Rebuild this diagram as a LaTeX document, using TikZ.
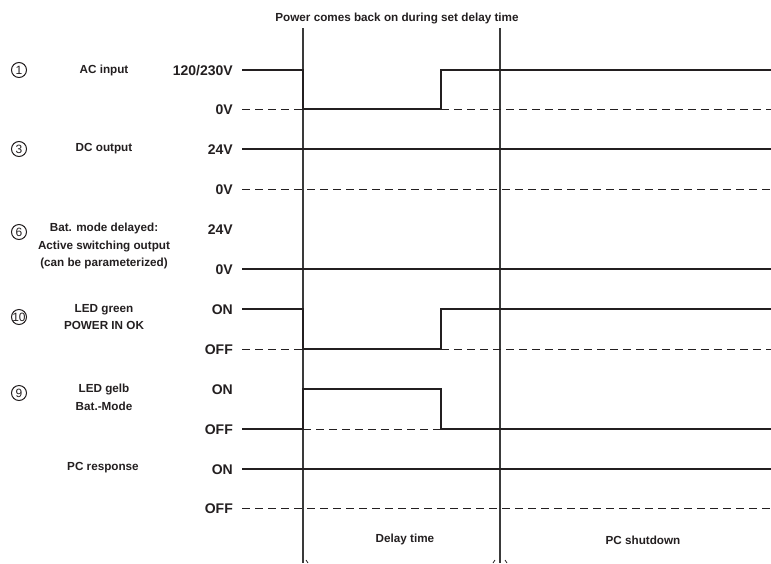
\documentclass[tikz,border=0pt]{standalone}
\usepackage{fontspec}
\setmainfont{Liberation Sans}
\definecolor{sigc}{HTML}{231F20}
\definecolor{gridc}{HTML}{3A3A3A}
\begin{document}
\begin{tikzpicture}[x=1pt,y=-1pt,
  sig/.style={line width=2.6pt, color=sigc, line join=miter},
  refline/.style={line width=0.9pt, color=sigc, dash pattern=on 8pt off 5pt},
  gridline/.style={line width=1.1pt, color=gridc},
  lvl/.style={anchor=base east, font=\fontsize{14}{16}\selectfont\bfseries, inner sep=0pt, text=sigc},
  sname/.style={align=center, font=\fontsize{11.7}{17.5}\selectfont\bfseries, inner sep=0pt, text=sigc},
  cnum/.style={circle, draw=sigc, line width=1pt, minimum size=15pt, inner sep=0pt, font=\fontsize{12}{12}\selectfont, text=sigc}]
\useasboundingbox (0,0) rectangle (771,563);

% time markers
\coordinate (vA0) at (303,28);
\coordinate (vA1) at (303,563);
\coordinate (vB0) at (500,28);
\coordinate (vB1) at (500,563);
\draw[gridline] (vA0) -- (vA1);
\draw[gridline] (vB0) -- (vB1);

% title and bottom labels
\node[sname] (title) at (397,18) {Power comes back on during set delay time};
\node[sname] (delay) at (405,539) {Delay time};
\node[sname] (shut) at (643,540) {PC shutdown};

% circled numbers
\node[cnum] (n1) at (19,70) {1};
\node[cnum] (n3) at (19,149) {3};
\node[cnum] (n6) at (19,232) {6};
\node[cnum] (n10) at (19,317) {};
\node[font=\fontsize{12}{12}\selectfont, inner sep=0pt, text=sigc] at (n10) {10};
\node[cnum] (n9) at (19,393) {9};

% signal names
\node[sname] (acn) at (104,70) {AC input};
\node[sname] (dcn) at (104,149) {DC output};
\node[sname] (batn) at (104,246) {Bat. mode delayed:\\Active switching output\\(can be parameterized)};
\node[sname] (grn) at (104,317) {LED green\\POWER IN OK};
\node[sname] (yeln) at (104,397.5) {LED gelb\\Bat.-Mode};
\node[sname] (pcn) at (103,468) {PC response};

% level labels
\node[lvl] (l1) at (233,75) {120/230V};
\node[lvl] (l2) at (233,114) {0V};
\node[lvl] (l3) at (233,154) {24V};
\node[lvl] (l4) at (233,194) {0V};
\node[lvl] (l5) at (233,234) {24V};
\node[lvl] (l6) at (233,274) {0V};
\node[lvl] (l7) at (233,314) {ON};
\node[lvl] (l8) at (233,354) {OFF};
\node[lvl] (l9) at (233,394) {ON};
\node[lvl] (l10) at (233,434) {OFF};
\node[lvl] (l11) at (233,474) {ON};
\node[lvl] (l12) at (233,513) {OFF};

% AC input
\draw[refline] (242,109) -- (303,109);
\draw[refline] (441,109) -- (771,109);
\draw[sig] (242,70) -- (303,70) -- (303,109) -- (441,109) -- (441,70) -- (771,70);
% DC output
\draw[sig] (242,149) -- (771,149);
\draw[refline] (242,189) -- (771,189);
% Bat mode delayed
\draw[sig] (242,269) -- (771,269);
% LED green
\draw[refline] (242,349) -- (303,349);
\draw[refline] (441,349) -- (771,349);
\draw[sig] (242,309) -- (303,309) -- (303,349) -- (441,349) -- (441,309) -- (771,309);
% LED gelb
\draw[refline] (303,429) -- (441,429);
\draw[sig] (242,429) -- (303,429) -- (303,389) -- (441,389) -- (441,429) -- (771,429);
% PC response
\draw[sig] (242,469) -- (771,469);
\draw[refline] (242,508) -- (771,508);

% cut-off arrow ends at the bottom edge
\draw[line width=0.8pt, sigc] (306,560) -- (308,563);
\draw[line width=0.8pt, sigc] (495,560) -- (493,563);
\draw[line width=0.8pt, sigc] (505,560) -- (507,563);
\end{tikzpicture}
\end{document}
